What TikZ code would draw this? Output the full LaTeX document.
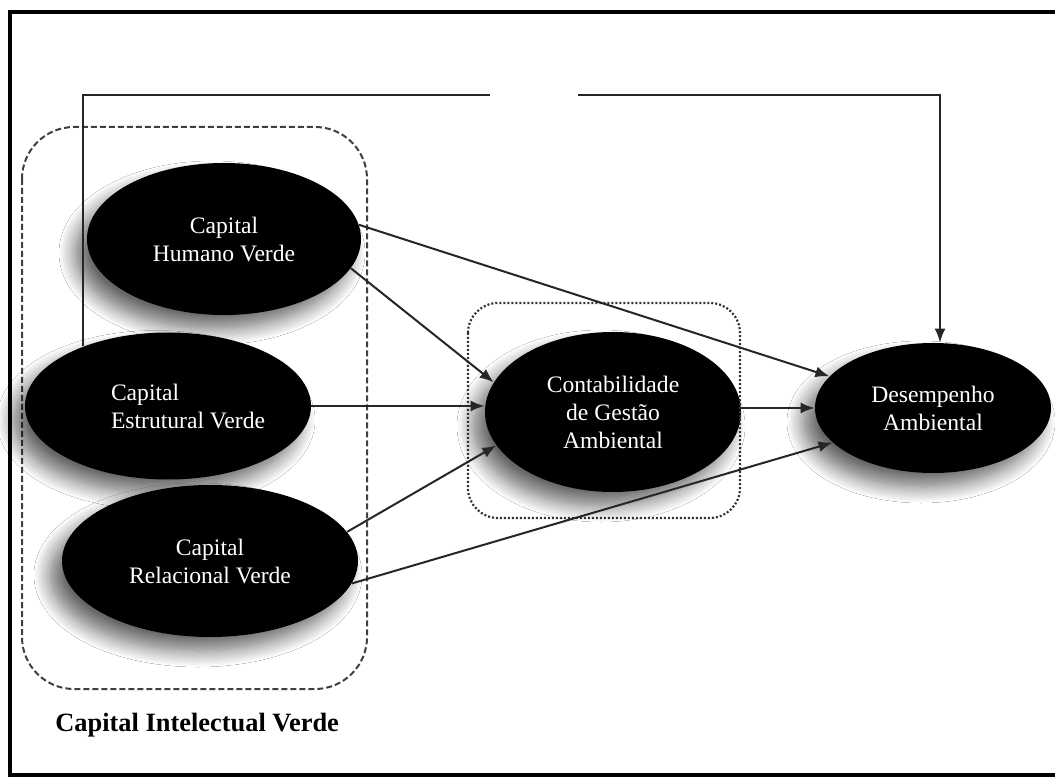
\documentclass[tikz,border=0pt]{standalone}
\usepackage{fontspec}
\setmainfont{Liberation Serif}
\usetikzlibrary{shapes.geometric, arrows.meta, shadows.blur}

\begin{document}
\begin{tikzpicture}[x=0.5pt, y=-0.5pt,
        oval/.style={ellipse, fill=black, text=white, align=center,
            font=\fontsize{11.8}{14}\selectfont,
            blur shadow={shadow xshift=-6pt, shadow yshift=-7pt,
                shadow blur radius=8pt, shadow blur steps=14, shadow opacity=60}},
        arr/.style={-{Latex[length=7pt, width=5.5pt]}, line width=1pt, draw=black!85}]
    \useasboundingbox (0,0) rectangle (1055,780);
    \fill[white] (0,0) rectangle (1055,780);
    \draw[line width=2.2pt] (10,12) rectangle (1065,775);
    % Groups
    \draw[dash pattern=on 3pt off 1.5pt, line width=1pt, draw=black!75,
        rounded corners=26pt] (22,127) rectangle (367,689);
    \node[anchor=west, inner sep=0, font=\fontsize{13.2}{15}\selectfont\bfseries]
        (civ) at (55,725) {Capital Intelectual Verde};
    % Capital nodes
    \node[oval, minimum width=137pt, minimum height=76pt]
        (hum) at (224,239) {Capital\\Humano Verde};
    \node[oval, minimum width=143pt, minimum height=73.5pt,
        label={[text=white, align=left, font=\fontsize{11.8}{14}\selectfont, xshift=10pt]center:Capital\\Estrutural Verde}]
        (est) at (168,406) {};
    \node[oval, minimum width=148pt, minimum height=76pt]
        (rel) at (210,561) {Capital\\Relacional Verde};
    % Mediator and outcome
    \node[oval, minimum width=128pt, minimum height=80pt]
        (con) at (613,412) {Contabilidade\\de Gestão\\Ambiental};
    \node[oval, minimum width=118pt, minimum height=65pt]
        (des) at (933,408) {Desempenho\\Ambiental};
    \draw[dash pattern=on 1pt off 1pt, line width=1.1pt, draw=black!80,
        rounded corners=15pt] (468,303) rectangle (740,518);
    % Arrows
    \foreach \a/\b in {hum.-13/con.166, hum.6/des.163, rel.12/con.196, rel.-9/des.199} {
        \draw[arr] (\a) -- (\b);
    }
    \draw[arr] (est.east) -- (con.west |- est.east);
    \draw[arr] (con.east |- des.west) -- (des.west);
    % Top path
    \coordinate (gap-l) at (490,95);
    \coordinate (gap-r) at (578,95);
    \coordinate (corner) at (940,95);
    \draw[line width=1pt, draw=black!85] (est.145) |- (gap-l);
    \draw[arr] (gap-r) -- (corner) -- (corner |- des.north);
\end{tikzpicture}
\end{document}
